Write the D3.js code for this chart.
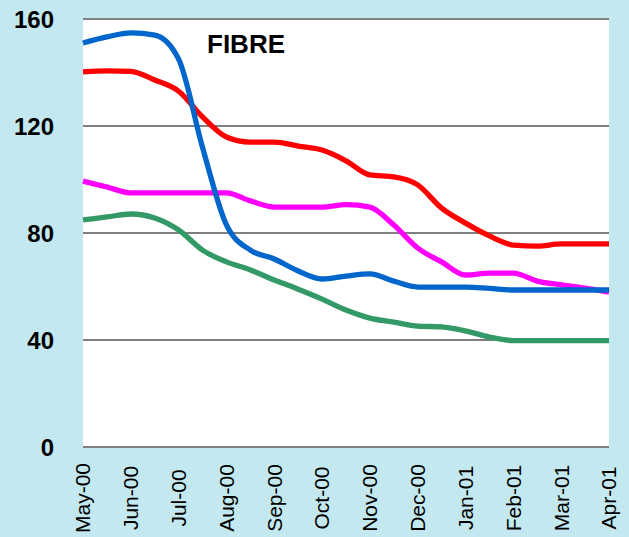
<!DOCTYPE html>
<html>
<head>
<meta charset="utf-8">
<script src="https://cdn.jsdelivr.net/npm/d3@7"></script>
<style>
  body { margin: 0; background: #c3e8ef; }
  svg { display: block; font-family: "Liberation Sans", Arial, sans-serif; }
</style>
</head>
<body>
<svg id="chart" width="629" height="537"></svg>
<script>
// month tick labels and half-month sample positions
let months = ['May-00','Jun-00','Jul-00','Aug-00','Sep-00','Oct-00','Nov-00','Dec-00','Jan-01','Feb-01','Mar-01','Apr-01'];
let steps = d3.range(0, 11.01, 0.5);
let yTicks = [0, 40, 80, 120, 160];

let blueValues = [151, 153.3, 154.8, 154, 145, 112, 83, 73.6, 70.3, 65.8, 62.8, 63.9, 64.7, 62, 59.8, 59.8, 59.8, 59.3, 58.7, 58.7, 58.7, 58.7, 58.7];
let redValues = [140.2, 140.6, 140.4, 137.2, 133, 123.4, 115.9, 114, 114, 112.5, 111, 107, 101.7, 101, 98, 89.3, 83.7, 78.9, 75.5, 75.1, 75.9, 75.9, 75.9];
let magentaValues = [99.4, 97.2, 95, 95, 95, 95, 95, 92, 89.7, 89.7, 89.7, 90.6, 89.7, 83, 74.4, 69.2, 64.3, 65, 65, 62, 60.6, 59.4, 57.9];
let greenValues = [84.9, 86, 87.1, 85.6, 81.1, 73.6, 69.2, 66.2, 62.4, 59, 55.3, 51.2, 48.2, 46.7, 45.2, 44.9, 43.4, 41.1, 39.8, 39.8, 39.8, 39.8, 39.8];

let series = [
  { values: greenValues, color: '#339966' },
  { values: magentaValues, color: '#ff00ff' },
  { values: redValues, color: '#ff0000' },
  { values: blueValues, color: '#0066cc' }
];

let svg = d3.select('#chart');
let plotLeft = 83, plotRight = 609, plotTop = 19, plotBottom = 447;

let x = d3.scaleLinear().domain([0, 11]).range([plotLeft, plotRight]);
let y = d3.scaleLinear().domain([0, 160]).range([plotBottom, plotTop]);

svg.append('rect')
  .attr('width', 629).attr('height', 537)
  .attr('fill', '#c3e8ef');

svg.append('rect')
  .attr('x', plotLeft).attr('y', plotTop)
  .attr('width', plotRight - plotLeft).attr('height', plotBottom - plotTop)
  .attr('fill', '#ffffff');

// gridlines
svg.selectAll('line.grid')
  .data(yTicks)
  .enter()
  .append('line')
  .attr('class', 'grid')
  .attr('x1', plotLeft).attr('x2', plotRight)
  .attr('y1', d => y(d)).attr('y2', d => y(d))
  .attr('stroke', '#808080')
  .attr('stroke-width', 2);

// y labels
svg.selectAll('text.ylab')
  .data(yTicks)
  .enter()
  .append('text')
  .attr('class', 'ylab')
  .attr('x', 54)
  .attr('y', d => y(d))
  .attr('dy', '0.36em')
  .attr('text-anchor', 'end')
  .attr('font-size', 24)
  .attr('font-weight', 'bold')
  .attr('fill', '#000')
  .text(d => d);

// x labels, rotated
svg.selectAll('text.xlab')
  .data(months)
  .enter()
  .append('text')
  .attr('class', 'xlab')
  .attr('transform', (d, i) => `translate(${x(i)},498) rotate(-90)`)
  .attr('dy', '0.35em')
  .attr('text-anchor', 'middle')
  .attr('font-size', 21)
  .attr('fill', '#000')
  .text(d => d);

let line = d3.line()
  .x((d, i) => x(steps[i]))
  .y(d => y(d))
  .curve(d3.curveMonotoneX);

svg.selectAll('path.series')
  .data(series)
  .enter()
  .append('path')
  .attr('class', 'series')
  .attr('d', d => line(d.values))
  .attr('fill', 'none')
  .attr('stroke', d => d.color)
  .attr('stroke-width', 5.3)
  .attr('stroke-linejoin', 'round');

svg.append('text')
  .attr('x', 207)
  .attr('y', 53)
  .attr('font-size', 26)
  .attr('font-weight', 'bold')
  .attr('fill', '#000')
  .text('FIBRE');
</script>
</body>
</html>
